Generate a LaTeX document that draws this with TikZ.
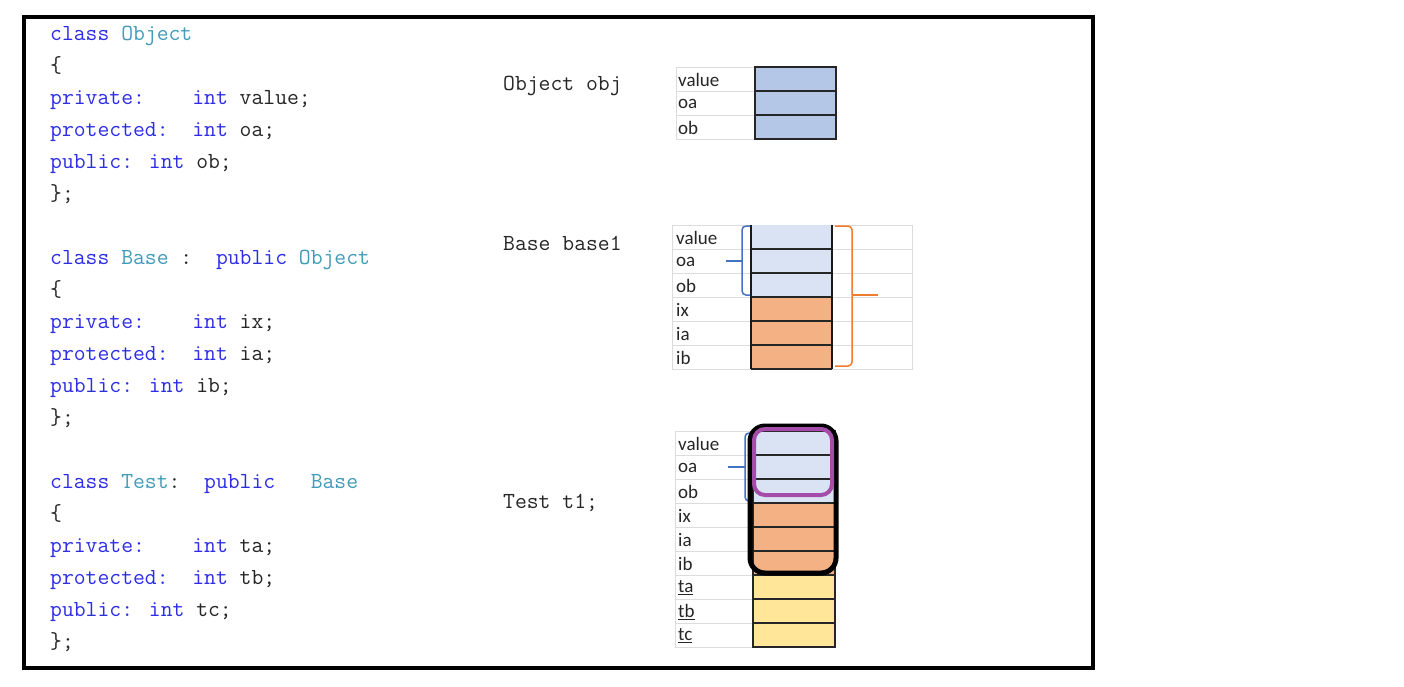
\documentclass[tikz,border=0pt]{standalone}
\usepackage{fontspec}
\newfontfamily\lblfont{Carlito}
\definecolor{kwc}{RGB}{45,45,230}
\definecolor{tyc}{RGB}{65,155,185}
\definecolor{objfill}{HTML}{B4C7E7}
\definecolor{ltblue}{HTML}{DAE3F3}
\definecolor{orng}{HTML}{F4B183}
\definecolor{ylw}{HTML}{FFE699}
\definecolor{gridc}{HTML}{DCDCDC}
\definecolor{bbr}{HTML}{4472C4}
\definecolor{obr}{HTML}{ED7D31}
\definecolor{purp}{RGB}{165,75,170}
\newcommand{\kwd}[1]{\textcolor{kwc}{#1}}
\newcommand{\tyd}[1]{\textcolor{tyc}{#1}}
\begin{document}
\begin{tikzpicture}[x=1pt,y=-1pt,
  code/.style={anchor=base west, inner sep=0pt, font=\ttfamily\fontsize{23}{23}\selectfont, text=black!85},
  lbl/.style={anchor=west, inner sep=0pt, font=\lblfont\fontsize{19}{19}\selectfont, text=black!85},
  gridline/.style={draw=gridc, line width=1pt},
  cellline/.style={draw=black!85, line width=1.6pt},
  thickline/.style={draw=black!90, line width=2.4pt},
  bbrace/.style={draw=bbr, line width=1.5pt, rounded corners=4pt},
  obrace/.style={draw=obr, line width=1.5pt, rounded corners=4pt}]
\useasboundingbox (0,0) rectangle (1404,686);
\fill[white] (0,0) rectangle (1404,686);
\draw[line width=3.5pt] (24,17) rectangle (1093,668);

% ---- code: class Object
\node[code] (c1) at (50,40) {\kwd{class} \tyd{Object}};
\node[code] (c2) at (50,72) {\{};
\node[code] (c3) at (50,104) {\kwd{private:}~~~~\kwd{int} value;};
\node[code] (c4) at (50,136) {\kwd{protected:}~~\kwd{int} oa;};
\node[code] (c5) at (50,168) {\kwd{public:} \kwd{int} ob;};
\node[code] (c6) at (50,200) {\};};
% ---- class Base
\node[code] (c7) at (50,264) {\kwd{class} \tyd{Base} :~~\kwd{public} \tyd{Object}};
\node[code] (c8) at (50,296) {\{};
\node[code] (c9) at (50,328) {\kwd{private:}~~~~\kwd{int} ix;};
\node[code] (c10) at (50,360) {\kwd{protected:}~~\kwd{int} ia;};
\node[code] (c11) at (50,392) {\kwd{public:} \kwd{int} ib;};
\node[code] (c12) at (50,424) {\};};
% ---- class Test
\node[code] (c13) at (50,488) {\kwd{class} \tyd{Test}:~~\kwd{public}~~~\tyd{Base}};
\node[code] (c14) at (50,520) {\{};
\node[code] (c15) at (50,552) {\kwd{private:}~~~~\kwd{int} ta;};
\node[code] (c16) at (50,584) {\kwd{protected:}~~\kwd{int} tb;};
\node[code] (c17) at (50,616) {\kwd{public:} \kwd{int} tc;};
\node[code] (c18) at (50,648) {\};};

% ---- object names
\node[code] (n1) at (503,90) {Object obj};
\node[code] (n2) at (503,250) {Base base1};
\node[code] (n3) at (503,508) {Test t1;};

% ---- Object obj table
\foreach \i/\t in {0/value,1/oa,2/ob} {
  \draw[gridline] (676,{67+24*\i}) rectangle (755,{91+24*\i});
  \node[lbl] (o\i) at (678,{80+24*\i}) {\t};
  \draw[cellline, fill=objfill] (755,{67+24*\i}) rectangle (836,{91+24*\i});
}

% ---- Base base1 table
\foreach \i/\t/\c in {0/value/ltblue,1/oa/ltblue,2/ob/ltblue,3/ix/orng,4/ia/orng,5/ib/orng} {
  \draw[gridline] (672,{225+24*\i}) rectangle (751,{249+24*\i});
  \draw[gridline] (832,{225+24*\i}) rectangle (912,{249+24*\i});
  \fill[\c] (751,{225+24*\i}) rectangle (832,{249+24*\i});
  \node[lbl] (b\i) at (676,{238+24*\i}) {\t};
}
\foreach \i in {1,...,6} {
  \draw[cellline] (751,{225+24*\i}) -- (832,{225+24*\i});
}
\draw[thickline] (751,225) -- (751,369);
\draw[thickline] (832,225) -- (832,369);
\draw[bbrace] (750,226) -| (742,295) -- (750,295);
\draw[bbrace] (742,261) -- (726,261);
\draw[obrace] (835,226) -| (852,366) -- (835,366);
\draw[obrace] (852,295) -- (878,295);

% ---- Test t1 table
\foreach \i/\t/\c in {0/value/ltblue,1/oa/ltblue,2/ob/ltblue,3/ix/orng,4/ia/orng,5/ib/orng,6/\underline{ta}/ylw,7/\underline{tb}/ylw,8/\underline{tc}/ylw} {
  \draw[gridline] (675,{431+24*\i}) rectangle (753,{455+24*\i});
  \draw[cellline, fill=\c] (753,{431+24*\i}) rectangle (835,{455+24*\i});
  \node[lbl] (t\i) at (678,{444+24*\i}) {\t};
}
\draw[bbrace] (752,433) -| (745,501) -- (752,501);
\draw[bbrace] (745,467) -- (728,467);
\draw[line width=5pt, rounded corners=15pt] (750,426) rectangle (836,573);
\draw[purp, line width=4pt, rounded corners=11pt] (754,429) rectangle (832,495);
\end{tikzpicture}
\end{document}
